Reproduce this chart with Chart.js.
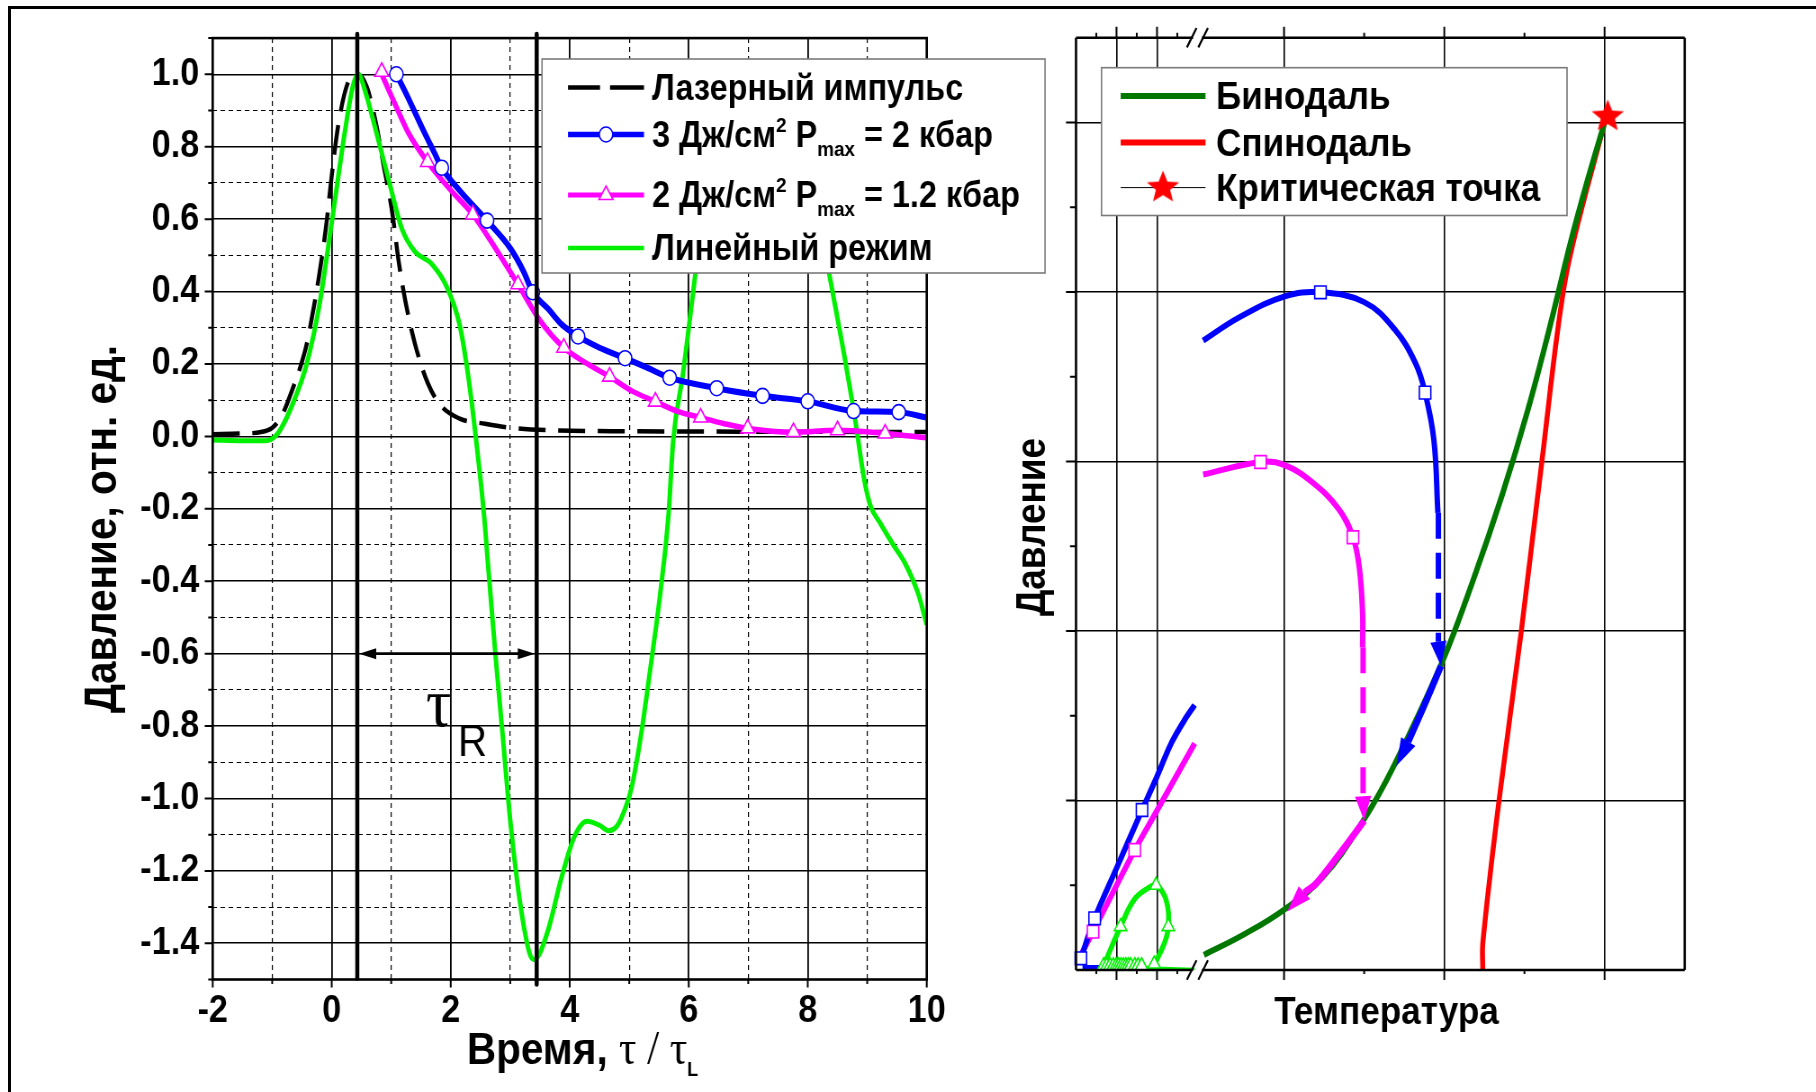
<!DOCTYPE html>
<html>
<head>
<meta charset="utf-8">
<script src="https://cdn.jsdelivr.net/npm/chart.js@4.4.1/dist/chart.umd.min.js"></script>
<style>
  html, body { margin: 0; padding: 0; background: #fff; width: 1816px; height: 1092px; overflow: hidden; }
  #frame { position: absolute; left: 8px; top: 6px; width: 1900px; height: 1200px; border: 3px solid #000; }
  canvas { position: absolute; top: 0; transform: scaleX(0.9); transform-origin: 0 0; }
  #left { left: 0; }
  #right { left: 1000px; }
</style>
</head>
<body>
<div id="frame"></div>
<canvas id="left" width="1167" height="1092"></canvas>
<canvas id="right" width="907" height="1092"></canvas>
<script>
// ==========================================
// DATA - left panel (pressure vs time)
// ==========================================
const timeMajor = [-2, 0, 2, 4, 6, 8, 10];
const timeMinor = [-1, 1, 3, 5, 7, 9];
const pressureMajor = [-1.4, -1.2, -1.0, -0.8, -0.6, -0.4, -0.2, 0, 0.2, 0.4, 0.6, 0.8, 1.0];
const pressureMinor = [-1.5, -1.3, -1.1, -0.9, -0.7, -0.5, -0.3, -0.1, 0.1, 0.3, 0.5, 0.7, 0.9, 1.1];
const pressureLabels = ['-1.4', '-1.2', '-1.0', '-0.8', '-0.6', '-0.4', '-0.2', '0.0', '0.2', '0.4', '0.6', '0.8', '1.0'];

const laserT = [-2, -1.5, -1.07, -0.85, -0.64, -0.53, -0.42, -0.32, -0.21, -0.1, 0, 0.11, 0.27, 0.43, 0.59, 0.75, 0.86, 1.02, 1.13, 1.24, 1.4, 1.61, 1.83, 2.15, 2.58, 3.0, 3.65, 5.15, 7.0, 10];
const laserP = [0.006, 0.008, 0.017, 0.054, 0.139, 0.19, 0.255, 0.34, 0.446, 0.573, 0.72, 0.86, 0.976, 1.0, 0.965, 0.86, 0.76, 0.615, 0.478, 0.372, 0.255, 0.149, 0.086, 0.049, 0.035, 0.024, 0.017, 0.014, 0.013, 0.012];

const j3T = [1.087, 1.29, 1.5, 1.72, 1.85, 2.15, 2.61, 3.0, 3.22, 3.38, 3.65, 3.86, 4.14, 4.5, 4.93, 5.3, 5.68, 6.47, 7.24, 8.0, 8.77, 9.53, 10];
const j3P = [1.0, 0.933, 0.859, 0.785, 0.742, 0.679, 0.596, 0.52, 0.457, 0.398, 0.35, 0.31, 0.276, 0.245, 0.216, 0.19, 0.162, 0.133, 0.112, 0.097, 0.07, 0.067, 0.052];
const j3MarkT = [1.087, 1.85, 2.61, 3.38, 4.14, 4.93, 5.68, 6.47, 7.24, 8.0, 8.77, 9.53];
const j3MarkP = [1.0, 0.742, 0.596, 0.398, 0.276, 0.216, 0.162, 0.133, 0.112, 0.097, 0.07, 0.067];

const j2T = [0.84, 1.08, 1.29, 1.61, 2.0, 2.37, 2.75, 3.13, 3.5, 3.9, 4.3, 4.67, 5.05, 5.44, 5.8, 6.2, 6.6, 6.99, 7.76, 8.5, 9.3, 10];
const j2P = [1.0, 0.912, 0.838, 0.758, 0.68, 0.613, 0.52, 0.42, 0.32, 0.245, 0.2, 0.165, 0.125, 0.096, 0.07, 0.052, 0.035, 0.022, 0.012, 0.017, 0.008, -0.004];
const j2MarkT = [0.84, 1.61, 2.37, 3.13, 3.9, 4.67, 5.44, 6.2, 6.99, 7.76, 8.5, 9.3];
const j2MarkP = [1.007, 0.758, 0.613, 0.42, 0.245, 0.165, 0.096, 0.052, 0.022, 0.012, 0.017, 0.008];

const linT = [-2, -1.5, -1.1, -0.95, -0.85, -0.64, -0.42, -0.21, 0, 0.22, 0.36, 0.45, 0.55, 0.75, 0.97, 1.18, 1.4, 1.67, 1.93, 2.15, 2.3, 2.42, 2.55, 2.65, 2.75, 2.87, 3.0, 3.11, 3.22, 3.33, 3.4, 3.49, 3.65, 3.86, 4.08, 4.29, 4.5, 4.65, 4.8, 4.95, 5.04, 5.2, 5.36, 5.52, 5.66, 5.74, 5.9, 6.11, 6.3, 6.6, 7.0, 7.4, 7.8, 8.1, 8.36, 8.58, 8.8, 8.95, 9.05, 9.22, 9.44, 9.65, 9.86, 10];
const linP = [-0.01, -0.012, -0.012, 0.0, 0.022, 0.096, 0.2, 0.36, 0.59, 0.84, 0.97, 1.0, 0.96, 0.84, 0.70, 0.573, 0.51, 0.478, 0.414, 0.308, 0.16, 0.0, -0.2, -0.4, -0.6, -0.82, -1.06, -1.22, -1.345, -1.43, -1.445, -1.43, -1.356, -1.22, -1.105, -1.063, -1.074, -1.089, -1.075, -1.02, -0.97, -0.823, -0.635, -0.436, -0.217, -0.01, 0.17, 0.446, 0.7, 0.92, 1.0, 0.98, 0.85, 0.66, 0.45, 0.255, 0.043, -0.12, -0.19, -0.24, -0.3, -0.355, -0.436, -0.52];

const pulseLineT = [0.43, 3.445];
const pulseLineTop = [1.111, 1.111];
const pulseLineBottom = [-1.497, -1.514];
const tauSpanP = -0.6;
const tauLabelT = [1.585, 2.12];
const tauLabelP = [-0.80, -0.884];

// ==========================================
// DATA - right panel (phase diagram, broken temperature axis)
// ==========================================
const tempMajorA = [1, 2];
const tempMinorA = [0.5, 1.5, 2.5];
const tempMajorB = [2, 3, 4];
const tempMinorB = [2.5, 3.5];
const presMajorR = [1, 2, 3, 4, 5];
const presMinorR = [0.5, 1.5, 2.5, 3.5, 4.5];

const binodalT = [1.50, 1.75, 2.0, 2.24, 2.5, 2.69, 2.986, 3.18, 3.36, 3.52, 3.66, 3.79, 3.9, 4.0];
const binodalP = [0.089, 0.21, 0.356, 0.546, 0.89, 1.213, 1.815, 2.3, 2.8, 3.3, 3.8, 4.3, 4.68, 5.0];
const spinodalT = [3.24, 3.24, 3.34, 3.48, 3.61, 3.76, 4.0];
const spinodalP = [0, 0.156, 0.99, 1.996, 3.01, 4.1, 5.0];
const criticalT = [4.02];
const criticalP = [5.035];

const blueHotT = [1.495, 1.72, 2.0, 2.227, 2.5, 2.69, 2.82, 2.88, 2.935, 2.96];
const blueHotP = [3.713, 3.85, 3.973, 3.998, 3.94, 3.78, 3.58, 3.406, 3.126, 2.697];
const blueHotMarkT = [2.227, 2.88];
const blueHotMarkP = [3.998, 3.406];
const blueDropT = [2.963, 2.963];
const blueDropP = [2.697, 1.937];
const blueBinT = [2.979, 2.87, 2.775];
const blueBinP = [1.793, 1.55, 1.347];

const magHotT = [1.495, 1.853, 2.0, 2.175, 2.34, 2.43, 2.47, 2.49, 2.49];
const magHotP = [2.923, 2.997, 2.98, 2.878, 2.72, 2.553, 2.37, 2.104, 1.904];
const magHotMarkT = [1.853, 2.43];
const magHotMarkP = [2.997, 2.553];
const magDropT = [2.493, 2.493];
const magDropP = [1.904, 1.025];
const magBinT = [2.50, 2.35, 2.2, 2.127];
const magBinP = [0.88, 0.69, 0.51, 0.457];

// arrow heads: [baseT, baseP, tipT, tipP]
const blueArrows = [[2.963, 1.937, 2.979, 1.793], [2.775, 1.347, 2.70, 1.203]];
const magArrows = [[2.493, 1.025, 2.50, 0.88], [2.127, 0.457, 2.02, 0.345]];

// cold side (left segment of the broken axis)
const blueColdT = [0.12, 0.46, 1.0, 1.63, 1.96, 2.35, 2.68, 2.93];
const blueColdP = [0.069, 0.305, 0.60, 0.944, 1.12, 1.337, 1.475, 1.563];
const blueColdMarkT = [0.12, 0.46, 1.63];
const blueColdMarkP = [0.069, 0.305, 0.944];
const blueFloorT = [0.16, 0.58];
const blueFloorP = [0.012, 0.012];
const magColdT = [0.14, 0.42, 1.45, 1.96, 2.93];
const magColdP = [0.098, 0.226, 0.708, 0.924, 1.337];
const magColdMarkT = [0.42, 1.45];
const magColdMarkP = [0.226, 0.708];
const greenLoopT = [1.93, 2.18, 2.28, 2.225, 1.975, 1.77, 1.43, 1.1, 0.81, 0.68];
const greenLoopP = [0.03, 0.157, 0.256, 0.413, 0.50, 0.482, 0.413, 0.256, 0.098, 0.02];
const greenFloorT = [0.68, 1.93, 2.93];
const greenFloorP = [0.018, 0.012, 0.005];
const greenMarkT = [0.68, 0.76, 0.84, 0.92, 0.99, 1.05, 1.11, 1.17, 1.23, 1.29, 1.35, 1.45, 1.53, 1.62, 1.93, 2.28, 1.975, 1.1];
const greenMarkP = [0.025, 0.025, 0.025, 0.025, 0.025, 0.025, 0.025, 0.025, 0.025, 0.025, 0.025, 0.025, 0.025, 0.025, 0.035, 0.256, 0.50, 0.256];

// ==========================================
// STYLE HELPERS
// ==========================================
const SQUEEZE = 0.9; // the original lettering is slightly condensed
const BLUE = '#0000ff', MAGENTA = '#ff00ff', LIME = '#00f000', DKGREEN = '#007800', RED = '#ff0000';
const SANS = "'Liberation Sans', Arial, sans-serif";
const SERIF = "'Liberation Serif', 'Times New Roman', serif";
Chart.defaults.font.family = SANS;

const lx = v => v / SQUEEZE;            // page px -> left canvas px
const rx = v => (v - 1000) / SQUEEZE;   // page px -> right canvas px

function pts(xs, ys) { return xs.map((x, i) => ({ x, y: ys[i] })); }
function near(list, v) { return list.some(m => Math.abs(m - v) < 1e-6); }

function line(data, color, width, extra) {
  return Object.assign({
    data, showLine: true, borderColor: color, backgroundColor: color, borderWidth: width,
    pointRadius: 0, fill: false, borderJoinStyle: 'round', borderCapStyle: 'butt'
  }, extra || {});
}
function marks(data, color, style, radius, extra) {
  return Object.assign({
    data, showLine: false, pointStyle: style, pointRadius: radius,
    pointBackgroundColor: '#fff', pointBorderColor: color, pointBorderWidth: 1.6, clip: false
  }, extra || {});
}

function starPath(c, cx, cy, R, r) {
  c.beginPath();
  for (let i = 0; i < 10; i++) {
    const a = -Math.PI / 2 + i * Math.PI / 5;
    const rr = i % 2 ? r : R;
    c.lineTo(cx + rr * Math.cos(a), cy + rr * Math.sin(a));
  }
  c.closePath();
}
// star image stretched so that it looks round after the page squeeze
const starImg = document.createElement('canvas');
starImg.width = 40; starImg.height = 36;
(function () {
  const c = starImg.getContext('2d');
  c.translate(20, 18);
  c.scale(1 / SQUEEZE, 1);
  starPath(c, 0, 0, 17, 7.5);
  c.fillStyle = RED;
  c.fill();
})();

function arrowHead(ctx, x0, y0, x1, y1, halfW, color) {
  const dx = x1 - x0, dy = y1 - y0, L = Math.hypot(dx, dy);
  const ux = dx / L, uy = dy / L;
  ctx.beginPath();
  ctx.moveTo(x1, y1);
  ctx.lineTo(x0 - uy * halfW, y0 + ux * halfW);
  ctx.lineTo(x0 + uy * halfW, y0 - ux * halfW);
  ctx.closePath();
  ctx.fillStyle = color;
  ctx.fill();
}

function runs(ctx, x, y, parts) {
  for (const [t, f, dy] of parts) {
    ctx.font = f;
    ctx.fillText(t, x, y + dy);
    x += ctx.measureText(t).width;
  }
  return x;
}
function runsWidth(ctx, parts) {
  let w = 0;
  for (const [t, f] of parts) { ctx.font = f; w += ctx.measureText(t).width; }
  return w;
}

function rotatedText(ctx, str, cx, cy, font) {
  ctx.save();
  ctx.translate(cx, cy);
  ctx.scale(1 / SQUEEZE, 1);
  ctx.rotate(-Math.PI / 2);
  ctx.scale(SQUEEZE, 1);
  ctx.font = font;
  ctx.textAlign = 'center';
  ctx.textBaseline = 'middle';
  ctx.fillStyle = '#000';
  ctx.fillText(str, 0, 0);
  ctx.restore();
}

function legendMarker(ctx, style, x, y, r, color) {
  ctx.save();
  ctx.fillStyle = '#fff'; ctx.strokeStyle = color; ctx.lineWidth = 1.6;
  ctx.beginPath();
  if (style === 'circle') {
    ctx.arc(x, y, r, 0, Math.PI * 2);
  } else {
    ctx.moveTo(x, y - r);
    ctx.lineTo(x + r * 0.866, y + r / 2);
    ctx.lineTo(x - r * 0.866, y + r / 2);
    ctx.closePath();
  }
  ctx.fill(); ctx.stroke();
  ctx.restore();
}

// ==========================================
// LEFT PANEL
// ==========================================
const B36 = `bold 36px ${SANS}`, B21 = `bold 21px ${SANS}`;

function legendLeft(ctx) {
  const x0 = lx(542), x1 = lx(1045), y0 = 59, y1 = 273;
  ctx.fillStyle = '#fff';
  ctx.fillRect(x0, y0, x1 - x0, y1 - y0);
  ctx.strokeStyle = '#7a7a7a'; ctx.lineWidth = 1.6;
  ctx.strokeRect(x0, y0, x1 - x0, y1 - y0);

  const s0 = lx(568), s1 = lx(644), sm = lx(606), tx = lx(652);
  const rows = [87.5, 134.5, 195, 248];
  ctx.lineCap = 'butt';
  // laser pulse sample (two dashes)
  ctx.strokeStyle = '#000'; ctx.lineWidth = 4.5;
  ctx.beginPath();
  ctx.moveTo(s0, rows[0]); ctx.lineTo(lx(600), rows[0]);
  ctx.moveTo(lx(610), rows[0]); ctx.lineTo(s1, rows[0]);
  ctx.stroke();
  // 3 J sample
  ctx.strokeStyle = BLUE; ctx.lineWidth = 5.5;
  ctx.beginPath(); ctx.moveTo(s0, rows[1]); ctx.lineTo(s1, rows[1]); ctx.stroke();
  legendMarker(ctx, 'circle', sm, rows[1], 7.5, BLUE);
  // 2 J sample
  ctx.strokeStyle = MAGENTA; ctx.lineWidth = 5;
  ctx.beginPath(); ctx.moveTo(s0, rows[2]); ctx.lineTo(s1, rows[2]); ctx.stroke();
  legendMarker(ctx, 'triangle', sm, rows[2], 9, MAGENTA);
  // linear regime sample
  ctx.strokeStyle = LIME; ctx.lineWidth = 4.5;
  ctx.beginPath(); ctx.moveTo(s0, rows[3]); ctx.lineTo(s1, rows[3]); ctx.stroke();

  ctx.fillStyle = '#000'; ctx.textAlign = 'left'; ctx.textBaseline = 'alphabetic';
  const base = 12;
  runs(ctx, tx, rows[0] + base, [['Лазерный импульс', B36, 0]]);
  runs(ctx, tx, rows[1] + base, [['3 Дж/см', B36, 0], ['2', B21, -15], [' P', B36, 0], ['max', B21, 9], [' = 2 кбар', B36, 0]]);
  runs(ctx, tx, rows[2] + base, [['2 Дж/см', B36, 0], ['2', B21, -15], [' P', B36, 0], ['max', B21, 9], [' = 1.2 кбар', B36, 0]]);
  runs(ctx, tx, rows[3] + base, [['Линейный режим', B36, 0]]);
}

const leftDecor = {
  id: 'leftDecor',
  afterDatasetsDraw(chart) {
    const { ctx, chartArea: ca, scales } = chart;
    const sx = scales.x, sy = scales.y;
    ctx.save();

    // tau_R span between the two vertical lines
    const ax0 = sx.getPixelForValue(pulseLineT[0]), ax1 = sx.getPixelForValue(pulseLineT[1]);
    const ay = sy.getPixelForValue(tauSpanP);
    ctx.strokeStyle = '#000'; ctx.lineWidth = 2.6;
    ctx.beginPath(); ctx.moveTo(ax0 + 15, ay); ctx.lineTo(ax1 - 15, ay); ctx.stroke();
    arrowHead(ctx, ax0 + 21, ay, ax0 + 2, ay, 5.5, '#000');
    arrowHead(ctx, ax1 - 21, ay, ax1 - 2, ay, 5.5, '#000');
    ctx.fillStyle = '#000'; ctx.textAlign = 'left'; ctx.textBaseline = 'alphabetic';
    ctx.font = `70px ${SERIF}`;
    ctx.fillText('τ', sx.getPixelForValue(tauLabelT[0]), sy.getPixelForValue(tauLabelP[0]));
    ctx.font = `45px ${SANS}`;
    ctx.fillText('R', sx.getPixelForValue(tauLabelT[1]), sy.getPixelForValue(tauLabelP[1]));

    // frame + tick marks
    ctx.strokeStyle = '#000'; ctx.lineWidth = 2.6;
    ctx.strokeRect(ca.left, ca.top, ca.width, ca.height);
    ctx.lineWidth = 2;
    ctx.beginPath();
    for (const v of timeMajor.concat(timeMinor)) {
      const p = sx.getPixelForValue(v);
      ctx.moveTo(p, ca.bottom); ctx.lineTo(p, ca.bottom + (near(timeMajor, v) ? 8 : 4.5));
    }
    for (const v of pressureMajor.concat(pressureMinor)) {
      const p = sy.getPixelForValue(v);
      ctx.moveTo(ca.left, p); ctx.lineTo(ca.left - (near(pressureMajor, v) ? 8 : 4.5) / SQUEEZE, p);
    }
    ctx.stroke();

    legendLeft(ctx);

    // axis titles
    rotatedText(ctx, 'Давление, отн. ед.', lx(104), 529, `bold 45px ${SANS}`);
    const xt = [['Время, ', `bold 45px ${SANS}`, 0], ['τ / τ', `48px ${SERIF}`, 0], ['L', `bold 20px ${SANS}`, 12]];
    const w = runsWidth(ctx, xt);
    ctx.fillStyle = '#000'; ctx.textAlign = 'left'; ctx.textBaseline = 'alphabetic';
    runs(ctx, lx(582.5) - w / 2, 1064, xt);
    ctx.restore();
  }
};

const leftChart = new Chart(document.getElementById('left'), {
  type: 'scatter',
  data: {
    datasets: [
      line(pts([pulseLineT[0], pulseLineT[0]], [pulseLineTop[0], pulseLineBottom[0]]), '#000', 4.5, { order: 0, clip: false }),
      line(pts([pulseLineT[1], pulseLineT[1]], [pulseLineTop[1], pulseLineBottom[1]]), '#000', 4.5, { order: 0, clip: false }),
      marks(pts(j3MarkT, j3MarkP), BLUE, 'circle', 7.5, { order: 1 }),
      marks(pts(j2MarkT, j2MarkP), MAGENTA, 'triangle', 9, { order: 2 }),
      line(pts(j3T, j3P), BLUE, 6, { order: 3, cubicInterpolationMode: 'monotone' }),
      line(pts(j2T, j2P), MAGENTA, 5.5, { order: 4, cubicInterpolationMode: 'monotone' }),
      line(pts(linT, linP), LIME, 5, { order: 5, cubicInterpolationMode: 'monotone' }),
      line(pts(laserT, laserP), '#000', 4.5, { order: 6, cubicInterpolationMode: 'monotone', borderDash: [30, 14] })
    ]
  },
  options: {
    responsive: false,
    animation: false,
    events: [],
    layout: { padding: { top: 38.1, right: 137.3, left: 0, bottom: 0 } },
    plugins: { legend: { display: false }, tooltip: { enabled: false } },
    scales: {
      x: {
        type: 'linear', min: -2, max: 10,
        afterBuildTicks: s => { s.ticks = timeMajor.concat(timeMinor).sort((a, b) => a - b).map(v => ({ value: v })); },
        afterFit: s => { s.height = 112.5; },
        ticks: {
          autoSkip: false, maxRotation: 0, padding: 9, color: '#000',
          font: { family: SANS, size: 38, weight: 'bold' },
          callback: v => near(timeMajor, v) ? String(v) : ''
        },
        grid: { drawTicks: false, color: '#000', lineWidth: c => (c.tick && near(timeMinor, c.tick.value)) ? 1.2 : 1.8 },
        border: { display: false, dash: c => (c.tick && near(timeMinor, c.tick.value)) ? [5, 4] : [] }
      },
      y: {
        type: 'linear', min: -1.5, max: 1.1,
        afterBuildTicks: s => { s.ticks = pressureMajor.concat(pressureMinor).sort((a, b) => a - b).map(v => ({ value: v })); },
        afterFit: s => { s.width = lx(212.7); },
        ticks: {
          autoSkip: false, padding: 15, color: '#000',
          font: { family: SANS, size: 38, weight: 'bold' },
          callback: v => {
            const i = pressureMajor.findIndex(m => Math.abs(m - v) < 1e-6);
            return i < 0 ? '' : pressureLabels[i];
          }
        },
        grid: { drawTicks: false, color: '#000', lineWidth: c => (c.tick && near(pressureMinor, c.tick.value)) ? 1.1 : 1.6 },
        border: { display: false, dash: c => (c.tick && near(pressureMinor, c.tick.value)) ? [5, 4] : [] }
      }
    }
  },
  plugins: [leftDecor]
});

// ==========================================
// RIGHT PANEL
// ==========================================
const B39 = `bold 39px ${SANS}`;

function legendRight(ctx) {
  const x0 = rx(1101.5), x1 = rx(1567), y0 = 67.7, y1 = 215.5;
  ctx.fillStyle = '#fff';
  ctx.fillRect(x0, y0, x1 - x0, y1 - y0);
  ctx.strokeStyle = '#7a7a7a'; ctx.lineWidth = 1.6;
  ctx.strokeRect(x0, y0, x1 - x0, y1 - y0);
  const s0 = rx(1120.7), s1 = rx(1205.5), sm = rx(1163), tx = rx(1216);
  const rows = [96, 142.5, 187.6];
  ctx.lineCap = 'butt';
  ctx.strokeStyle = DKGREEN; ctx.lineWidth = 6;
  ctx.beginPath(); ctx.moveTo(s0, rows[0]); ctx.lineTo(s1, rows[0]); ctx.stroke();
  ctx.strokeStyle = RED; ctx.lineWidth = 6;
  ctx.beginPath(); ctx.moveTo(s0, rows[1]); ctx.lineTo(s1, rows[1]); ctx.stroke();
  ctx.strokeStyle = '#000'; ctx.lineWidth = 1;
  ctx.beginPath(); ctx.moveTo(s0, rows[2]); ctx.lineTo(s1, rows[2]); ctx.stroke();
  ctx.drawImage(starImg, sm - starImg.width / 2, rows[2] - starImg.height / 2);

  ctx.fillStyle = '#000'; ctx.textAlign = 'left'; ctx.textBaseline = 'alphabetic';
  ctx.font = B39;
  ctx.fillText('Бинодаль', tx, rows[0] + 13);
  ctx.fillText('Спинодаль', tx, rows[1] + 13);
  ctx.fillText('Критическая точка', tx, rows[2] + 13);
}

const rightDecor = {
  id: 'rightDecor',
  afterDatasetsDraw(chart) {
    const { ctx, chartArea: ca, scales } = chart;
    const sa = scales.xa, sb = scales.xb, sy = scales.y;
    ctx.save();

    for (const a of blueArrows) {
      arrowHead(ctx, sb.getPixelForValue(a[0]), sy.getPixelForValue(a[1]), sb.getPixelForValue(a[2]), sy.getPixelForValue(a[3]), 9, BLUE);
    }
    for (const a of magArrows) {
      arrowHead(ctx, sb.getPixelForValue(a[0]), sy.getPixelForValue(a[1]), sb.getPixelForValue(a[2]), sy.getPixelForValue(a[3]), 9, MAGENTA);
    }

    // frame with the axis break
    const bx = sa.right, g = 4.4 / SQUEEZE;
    ctx.strokeStyle = '#000'; ctx.lineWidth = 2.6;
    ctx.beginPath();
    ctx.moveTo(ca.left, ca.top); ctx.lineTo(ca.left, ca.bottom);
    ctx.moveTo(ca.right, ca.top); ctx.lineTo(ca.right, ca.bottom);
    for (const yy of [ca.top, ca.bottom]) {
      ctx.moveTo(ca.left, yy); ctx.lineTo(bx - g, yy);
      ctx.moveTo(bx + g, yy); ctx.lineTo(ca.right, yy);
    }
    ctx.stroke();
    ctx.lineWidth = 2.2;
    ctx.beginPath();
    for (const yy of [ca.top, ca.bottom]) {
      for (const off of [-5.8, 5.6]) {
        const c = bx + off / SQUEEZE;
        ctx.moveTo(c - 4.8 / SQUEEZE, yy + 9.7); ctx.lineTo(c + 4.8 / SQUEEZE, yy - 9.7);
      }
    }
    ctx.stroke();

    // tick marks (no labels: schematic axes)
    ctx.lineWidth = 2;
    ctx.beginPath();
    for (const [s, maj, min] of [[sa, tempMajorA, tempMinorA], [sb, tempMajorB, tempMinorB]]) {
      for (const v of maj.concat(min)) {
        const p = s.getPixelForValue(v), m = near(maj, v);
        ctx.moveTo(p, ca.bottom); ctx.lineTo(p, ca.bottom + (m ? 10 : 4));
        ctx.moveTo(p, ca.top); ctx.lineTo(p, ca.top - (m ? 11 : 5));
      }
    }
    for (const v of presMajorR.concat(presMinorR)) {
      const p = sy.getPixelForValue(v);
      ctx.moveTo(ca.left, p); ctx.lineTo(ca.left - (near(presMajorR, v) ? 10 : 6) / SQUEEZE, p);
    }
    ctx.stroke();

    legendRight(ctx);

    rotatedText(ctx, 'Давление', rx(1034), 527, `bold 41px ${SANS}`);
    ctx.fillStyle = '#000'; ctx.textAlign = 'center'; ctx.textBaseline = 'alphabetic';
    ctx.font = B39;
    ctx.fillText('Температура', rx(1386.5), 1024);
    ctx.restore();
  }
};

function gridScale(extra) {
  return Object.assign({
    type: 'linear',
    ticks: { display: false },
    grid: { drawTicks: false, color: '#000', lineWidth: 1.6 },
    border: { display: false }
  }, extra);
}

const rightChart = new Chart(document.getElementById('right'), {
  type: 'scatter',
  data: {
    datasets: [
      Object.assign(marks(pts(criticalT, criticalP), RED, starImg, 17), { xAxisID: 'xb', order: 0 }),
      marks(pts(blueHotMarkT, blueHotMarkP), BLUE, 'rect', 9, { xAxisID: 'xb', order: 1 }),
      marks(pts(magHotMarkT, magHotMarkP), MAGENTA, 'rect', 9, { xAxisID: 'xb', order: 1 }),
      marks(pts(blueColdMarkT, blueColdMarkP), BLUE, 'rect', 9, { xAxisID: 'xa', order: 1 }),
      marks(pts(magColdMarkT, magColdMarkP), MAGENTA, 'rect', 9, { xAxisID: 'xa', order: 2 }),
      marks(pts(greenMarkT, greenMarkP), LIME, 'triangle', 8, { xAxisID: 'xa', order: 1 }),
      line(pts(blueBinT, blueBinP), BLUE, 7, { xAxisID: 'xb', order: 3, tension: 0.3 }),
      line(pts(magBinT, magBinP), MAGENTA, 7, { xAxisID: 'xb', order: 3, tension: 0.3 }),
      line(pts(blueHotT, blueHotP), BLUE, 6, { xAxisID: 'xb', order: 4, tension: 0.4 }),
      line(pts(magHotT, magHotP), MAGENTA, 6, { xAxisID: 'xb', order: 4, tension: 0.4 }),
      line(pts(blueDropT, blueDropP), BLUE, 6, { xAxisID: 'xb', order: 4, borderDash: [26, 14] }),
      line(pts(magDropT, magDropP), MAGENTA, 6, { xAxisID: 'xb', order: 4, borderDash: [26, 14] }),
      line(pts(blueColdT, blueColdP), BLUE, 6, { xAxisID: 'xa', order: 4, tension: 0.3 }),
      line(pts(magColdT, magColdP), MAGENTA, 6, { xAxisID: 'xa', order: 5, tension: 0.3 }),
      line(pts(blueFloorT, blueFloorP), BLUE, 6, { xAxisID: 'xa', order: 5 }),
      line(pts(greenLoopT, greenLoopP), LIME, 5.5, { xAxisID: 'xa', order: 5, tension: 0.4 }),
      line(pts(greenFloorT, greenFloorP), LIME, 3, { xAxisID: 'xa', order: 6 }),
      line(pts(binodalT, binodalP), DKGREEN, 6, { xAxisID: 'xb', order: 6, tension: 0.4 }),
      line(pts(spinodalT, spinodalP), RED, 5.5, { xAxisID: 'xb', order: 7, tension: 0.3 })
    ]
  },
  options: {
    responsive: false,
    animation: false,
    events: [],
    layout: { padding: { top: 37.7, right: 907 - rx(1684.7), left: 0, bottom: 0 } },
    plugins: { legend: { display: false }, tooltip: { enabled: false } },
    scales: {
      xa: gridScale({
        position: 'bottom', stack: 'temp', stackWeight: 121.5, min: 0, max: 3,
        afterBuildTicks: s => { s.ticks = tempMajorA.map(v => ({ value: v })); },
        afterFit: s => { s.height = 122; }
      }),
      xb: gridScale({
        position: 'bottom', stack: 'temp', stackWeight: 487.2, min: 1.46, max: 4.5,
        afterBuildTicks: s => { s.ticks = tempMajorB.map(v => ({ value: v })); },
        afterFit: s => { s.height = 122; }
      }),
      y: gridScale({
        position: 'left', min: 0, max: 5.5,
        afterBuildTicks: s => { s.ticks = presMajorR.map(v => ({ value: v })); },
        afterFit: s => { s.width = rx(1076); }
      })
    }
  },
  plugins: [rightDecor]
});
</script>
</body>
</html>
